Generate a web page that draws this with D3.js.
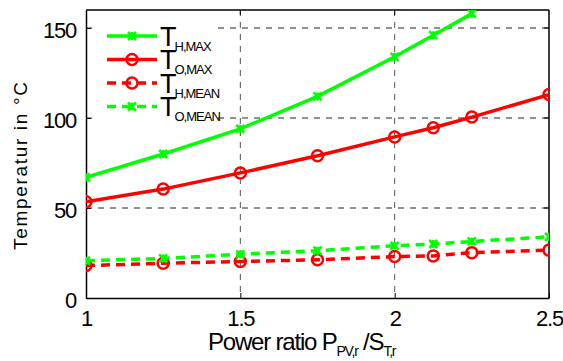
<!DOCTYPE html>
<html><head><meta charset="utf-8">
<script src="https://cdn.jsdelivr.net/npm/d3@7"></script>
<style>
html,body{margin:0;padding:0;background:#fff;}
text{font-family:"Liberation Sans",Arial,sans-serif;fill:#000;}
</style></head>
<body><svg id="c" width="563" height="361"></svg>
<script>
const ratios = [1, 1.25, 1.5, 1.75, 2, 2.125, 2.25, 2.5];
const tHMax = [67, 80, 94, 112, 134, 146, 158];
const tOMax = [53.5, 60.5, 69.5, 79, 89.5, 94.6, 100.5, 113];
const tHMean = [18, 19.3, 20.3, 21.2, 23, 23.4, 25.2, 26.6];
const tOMean = [20.7, 22, 24.3, 26.3, 29, 30, 31.4, 34];
const xTicks = [1, 1.5, 2, 2.5];
const yTicks = [0, 50, 100, 150];
const xTickLabels = ["1", "1.5", "2", "2.5"];

const series = [
  {name: "H,MAX", vals: tHMax, color: "#00ff00", dash: null, marker: "x"},
  {name: "O,MAX", vals: tOMax, color: "#ff0000", dash: null, marker: "o"},
  {name: "H,MEAN", vals: tHMean, color: "#ff0000", dash: "9,6", marker: "o"},
  {name: "O,MEAN", vals: tOMean, color: "#00ff00", dash: "9,6", marker: "x"}
];

const svg = d3.select("#c");
const L = 86, R = 549, T = 10, B = 298;
const x = d3.scaleLinear().domain([1, 2.5]).range([L, R]);
const y = d3.scaleLinear().domain([0, 160]).range([B, T]);

svg.append("defs").append("clipPath").attr("id", "clip")
  .append("rect").attr("x", L).attr("y", T).attr("width", R - L).attr("height", B - T);

// grid
const grid = svg.append("g");
grid.selectAll("line.gx").data(xTicks.filter(d => d > 1 && d < 2.5)).join("line")
  .attr("x1", d => x(d)).attr("x2", d => x(d)).attr("y1", T).attr("y2", B)
  .attr("stroke", "#555").attr("stroke-width", 1).attr("stroke-dasharray", "6,6");
grid.selectAll("line.gy").data(yTicks.filter(d => d > 0)).join("line")
  .attr("x1", L).attr("x2", R).attr("y1", d => y(d)).attr("y2", d => y(d))
  .attr("stroke", "#222").attr("stroke-width", 1).attr("stroke-dasharray", "6,6");

// axes
const xAxis = d3.axisBottom(x).tickValues(xTicks).tickFormat((d, i) => xTickLabels[i]).tickSizeInner(-5).tickSizeOuter(0).tickPadding(11);
const yAxis = d3.axisLeft(y).tickValues(yTicks).tickSizeInner(-5).tickSizeOuter(0).tickPadding(10);
const gx = svg.append("g").attr("transform", `translate(0,${B})`).call(xAxis);
const gy = svg.append("g").attr("transform", `translate(${L},0)`).call(yAxis);
[gx, gy].forEach(g => {
  g.select(".domain").attr("stroke", "#000").attr("stroke-width", 1.5);
  g.selectAll(".tick line").attr("stroke", "#000");
  g.selectAll("text").attr("font-size", 22).attr("font-family", "Liberation Sans, Arial").attr("letter-spacing", "-1.2px").attr("fill", "#000");
});
gy.selectAll(".tick text").attr("dy", "0.42em");
gx.selectAll(".tick text").attr("dy", "0.75em");
// box top & right
svg.append("line").attr("x1", L).attr("x2", R).attr("y1", T).attr("y2", T).attr("stroke", "#000").attr("stroke-width", 1.5);
svg.append("line").attr("x1", R).attr("x2", R).attr("y1", T).attr("y2", B).attr("stroke", "#000").attr("stroke-width", 1.5);
// top/right ticks
svg.selectAll("line.tt").data(xTicks.slice(1, -1)).join("line")
  .attr("x1", d => x(d)).attr("x2", d => x(d)).attr("y1", T).attr("y2", T + 5).attr("stroke", "#000");
svg.selectAll("line.rt").data(yTicks.slice(1)).join("line")
  .attr("x1", R - 5).attr("x2", R).attr("y1", d => y(d)).attr("y2", d => y(d)).attr("stroke", "#000");

// series
const plot = svg.append("g").attr("clip-path", "url(#clip)");
function drawMarker(g, type, color, cx, cy) {
  if (type === "o") {
    g.append("circle").attr("cx", cx).attr("cy", cy).attr("r", 5.5)
      .attr("fill", "none").attr("stroke", color).attr("stroke-width", 2.5);
  } else {
    const s = 4;
    g.append("path").attr("d", `M${cx - s},${cy - s}L${cx + s},${cy + s}M${cx - s},${cy + s}L${cx + s},${cy - s}M${cx},${cy - s}L${cx},${cy + s}`)
      .attr("fill", "none").attr("stroke", color).attr("stroke-width", 2.5);
  }
}
series.forEach(s => {
  const pts = s.vals.map((v, i) => [ratios[i], v]);
  const line = d3.line().x(d => x(d[0])).y(d => y(d[1]));
  plot.append("path").datum(pts).attr("d", line).attr("fill", "none")
    .attr("stroke", s.color).attr("stroke-width", 3.5)
    .attr("stroke-dasharray", s.dash);
  pts.forEach(p => drawMarker(plot, s.marker, s.color, x(p[0]), y(p[1])));
});

// legend
const lg = svg.append("g");
lg.append("rect").attr("x", 98).attr("y", 16).attr("width", 118).attr("height", 110).attr("fill", "#fff");
series.forEach((s, i) => {
  const yy = 36 + i * 23.5;
  lg.append("line").attr("x1", 107).attr("x2", 157).attr("y1", yy).attr("y2", yy)
    .attr("stroke", s.color).attr("stroke-width", 3.5).attr("stroke-dasharray", s.dash);
  drawMarker(lg, s.marker, s.color, 132, yy);
  const t = lg.append("text").attr("x", 160).attr("y", yy + 9.5).attr("font-size", 27).attr("letter-spacing", "-1px");
  t.append("tspan").text("T");
  t.append("tspan").attr("font-size", 13).attr("dy", 5).attr("dx", -1).attr("letter-spacing", "-1px").text(s.name);
});

// axis labels
const xl = svg.append("text").attr("x", 208).attr("y", 350).attr("font-size", 24).attr("letter-spacing", "-1.2px");
xl.append("tspan").text("Power ratio P");
xl.append("tspan").attr("font-size", 14).attr("dy", 6).text("PV,r");
xl.append("tspan").attr("dy", -6).text(" /S");
xl.append("tspan").attr("font-size", 14).attr("dy", 6).text("T,r");

svg.append("text").attr("transform", "translate(27,166) rotate(-90)").attr("text-anchor", "middle")
  .attr("font-size", 19).attr("textLength", 168).attr("lengthAdjust", "spacing").text("Temperatur in °C");
</script></body></html>
